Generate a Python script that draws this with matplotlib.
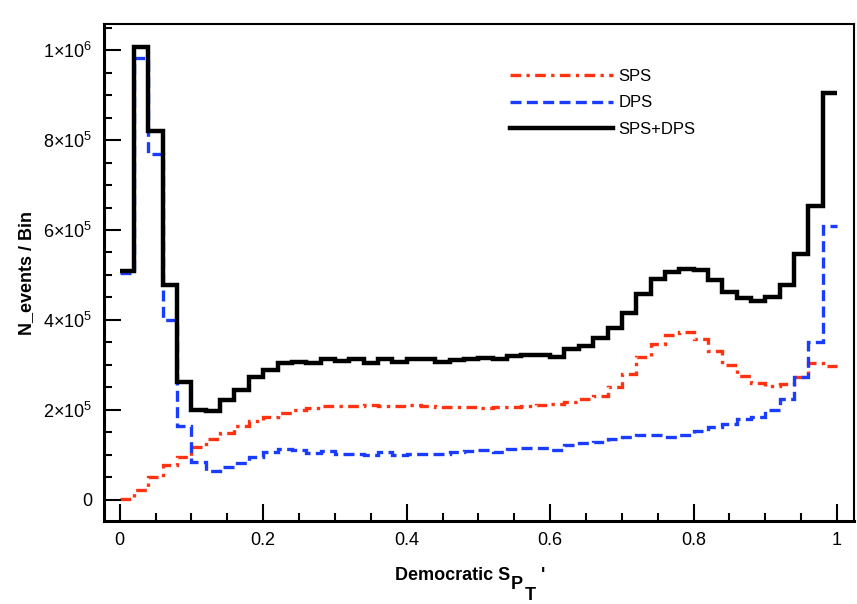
import matplotlib.pyplot as plt
import numpy as np
from matplotlib.ticker import MultipleLocator, FuncFormatter

plt.rcParams['font.family'] = ['Liberation Sans', 'DejaVu Sans']
plt.rcParams['mathtext.fontset'] = 'custom'
plt.rcParams['mathtext.rm'] = 'Liberation Sans'
plt.rcParams['mathtext.bf'] = 'Liberation Sans:bold'

edges = np.linspace(0, 1, 51)

# values in units of 1e5 events per bin
sps = [0.02, 0.22, 0.50, 0.78, 0.96, 1.17, 1.34, 1.48, 1.63, 1.76,
       1.85, 1.93, 1.99, 2.03, 2.08, 2.09, 2.08, 2.10, 2.09, 2.08,
       2.10, 2.08, 2.06, 2.06, 2.06, 2.05, 2.06, 2.07, 2.08, 2.10,
       2.12, 2.17, 2.23, 2.31, 2.50, 2.79, 3.17, 3.46, 3.67, 3.72,
       3.58, 3.30, 2.99, 2.75, 2.60, 2.53, 2.58, 2.73, 3.04, 2.97]
dps = [5.04, 9.83, 7.69, 4.00, 1.65, 0.84, 0.64, 0.73, 0.81, 0.96,
       1.06, 1.13, 1.11, 1.04, 1.08, 1.01, 1.01, 0.99, 1.05, 0.99,
       1.02, 1.02, 1.02, 1.06, 1.08, 1.10, 1.07, 1.13, 1.16, 1.16,
       1.10, 1.22, 1.26, 1.29, 1.34, 1.39, 1.43, 1.45, 1.39, 1.43,
       1.52, 1.62, 1.68, 1.80, 1.84, 1.99, 2.23, 2.74, 3.51, 6.08]
total = [5.08, 10.07, 8.20, 4.78, 2.62, 1.99, 1.97, 2.21, 2.43, 2.73,
         2.89, 3.04, 3.06, 3.03, 3.12, 3.08, 3.12, 3.05, 3.14, 3.06,
         3.14, 3.12, 3.06, 3.10, 3.14, 3.16, 3.14, 3.19, 3.22, 3.22,
         3.17, 3.35, 3.43, 3.59, 3.81, 4.16, 4.58, 4.91, 5.07, 5.14,
         5.10, 4.88, 4.62, 4.49, 4.42, 4.51, 4.77, 5.46, 6.53, 9.05]

sps = np.array(sps) * 1e5
dps = np.array(dps) * 1e5
total = np.array(total) * 1e5

W, H = 857, 604
fig = plt.figure(figsize=(W / 100, H / 100), dpi=100)
ax = fig.add_axes([0.121, 0.137, 0.875, 0.823])

ax.stairs(sps, edges, baseline=None, color='#ff3311', lw=2.4,
          linestyle=(0, (3.2, 1.6, 1, 1.6)), label='SPS')
ax.stairs(dps, edges, baseline=None, color='#1a3cff', lw=2.4,
          linestyle=(0, (3.3, 1.6)), label='DPS')
ax.stairs(total, edges, baseline=None, color='black', lw=3.2, label='SPS+DPS')

ax.set_xlim(-0.0223, 1.023)
ax.set_ylim(-4.8e4, 1.058e6)

ax.xaxis.set_major_locator(MultipleLocator(0.2))
ax.xaxis.set_minor_locator(MultipleLocator(0.05))
ax.yaxis.set_major_locator(MultipleLocator(2e5))
ax.yaxis.set_minor_locator(MultipleLocator(5e4))


def xfmt(v, pos):
    if abs(v) < 1e-9:
        return '0'
    if abs(v - 1) < 1e-9:
        return '1'
    return '%.1f' % v


def yfmt(v, pos):
    if abs(v) < 1:
        return '0'
    if v < 0:
        return ''
    e = int(np.floor(np.log10(v)))
    m = v / 10 ** e
    return r'%d$\times$10$^{%d}$' % (round(m), e)


ax.xaxis.set_major_formatter(FuncFormatter(xfmt))
ax.yaxis.set_major_formatter(FuncFormatter(yfmt))

ax.tick_params(which='both', direction='in', top=False, right=False, labelsize=13, width=1.5)
ax.tick_params(which='major', length=12, pad=8)
ax.tick_params(which='minor', length=6)
for s in ax.spines.values():
    s.set_linewidth(1.5)
for s in ['left', 'bottom']:
    ax.spines[s].set_linewidth(2.2)

# x label with stacked subscripts S_{P_T}'
lab = dict(fontsize=13, fontweight='bold', va='baseline')
fig.text(510 / W, 1 - 580 / H, 'Democratic S', ha='right', **lab)
fig.text(511 / W, 1 - 589 / H, 'P', ha='left', **lab)
fig.text(525 / W, 1 - 600 / H, 'T', ha='left', **lab)
fig.text(541 / W, 1 - 580 / H, "'", ha='left', **lab)

ax.set_ylabel('N_events / Bin', fontsize=13, fontweight='bold', labelpad=6)

ax.legend(loc='upper left', bbox_to_anchor=(0.522, 0.94), frameon=False,
          handlelength=6.2, labelspacing=0.69, handletextpad=0.3,
          prop={'family': 'Liberation Sans', 'size': 12})

plt.savefig('out.png', dpi=100)
plt.close(fig)
